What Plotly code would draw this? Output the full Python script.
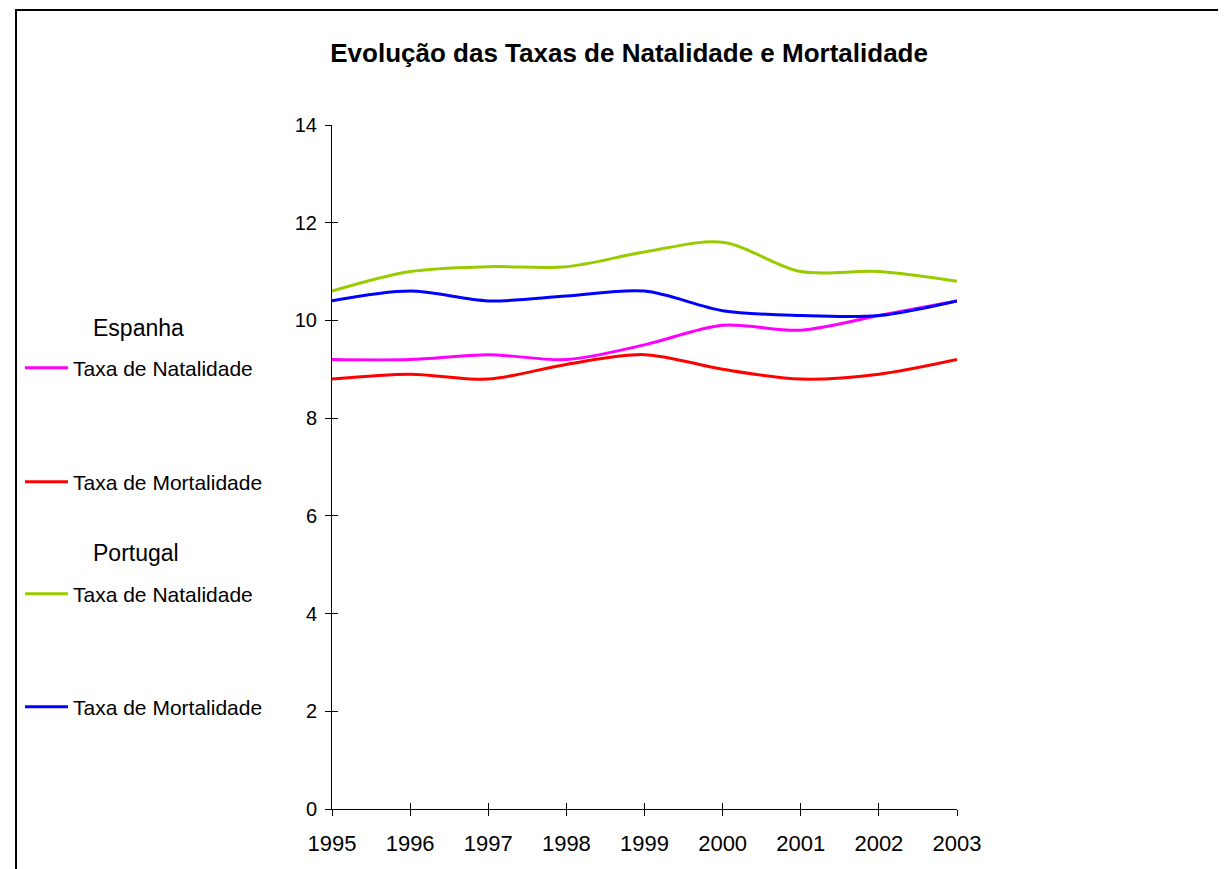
import plotly.graph_objects as go

anos = [1995, 1996, 1997, 1998, 1999, 2000, 2001, 2002, 2003]

esp_natalidade = [9.2, 9.2, 9.3, 9.2, 9.5, 9.9, 9.8, 10.1, 10.4]
esp_mortalidade = [8.8, 8.9, 8.8, 9.1, 9.3, 9.0, 8.8, 8.9, 9.2]
por_natalidade = [10.6, 11.0, 11.1, 11.1, 11.4, 11.6, 11.0, 11.0, 10.8]
por_mortalidade = [10.4, 10.6, 10.4, 10.5, 10.6, 10.2, 10.1, 10.1, 10.4]

y_ticks = [0, 2, 4, 6, 8, 10, 12, 14]

# page has an 8px body margin, so the figure is 8px smaller than the window
OFF = 8
W, H = 1226 - OFF, 869 - OFF
L, T = 328 - OFF, 125 - OFF
R, B = 1226 - 957, 869 - 809
pw, ph = W - L - R, H - T - B


def px_x(p):
    # p: x position in window pixels
    return (p - OFF - L) / pw


def px_y(p):
    return (H - B - (p - OFF)) / ph


font = 'Liberation Sans, Arial, sans-serif'

series = [
    ('Taxa de Natalidade', esp_natalidade, '#FF00FF', 'legend', 368),
    ('Taxa de Mortalidade', esp_mortalidade, '#FF0000', 'legend2', 482),
    ('Taxa de Natalidade', por_natalidade, '#99CC00', 'legend3', 594),
    ('Taxa de Mortalidade', por_mortalidade, '#0000FF', 'legend4', 707),
]

fig = go.Figure()
for name, vals, color, leg, _ in series:
    fig.add_trace(go.Scatter(x=anos, y=vals, name=name, mode='lines',
                             line=dict(color=color, width=3, shape='spline', smoothing=0.9),
                             legend=leg, showlegend=True))

# invisible copy on the overlay axes so their inside ticks get drawn (crossing ticks)
fig.add_trace(go.Scatter(x=anos, y=esp_natalidade, xaxis='x2', yaxis='y2', mode='lines',
                         opacity=0, showlegend=False, hoverinfo='skip'))

axis_common = dict(showgrid=False, zeroline=False, showline=True, linecolor='#000000',
                   linewidth=1, tickcolor='#000000', ticklen=6, tickwidth=1)

layout_legends = {}
for name, vals, color, leg, ypx in series:
    layout_legends[leg] = dict(x=px_x(14), y=px_y(ypx), xanchor='left', yanchor='middle',
                               bgcolor='rgba(0,0,0,0)', borderwidth=0, itemwidth=43,
                               font=dict(family=font, size=21, color='#000000'))

fig.update_layout(
    width=W, height=H,
    margin=dict(l=L, r=R, t=T, b=B),
    paper_bgcolor='white', plot_bgcolor='white',
    showlegend=True,
    title=dict(text='<b>Evolução das Taxas de Natalidade e Mortalidade</b>',
               x=px_x(627), xref='paper', xanchor='center',
               y=1 - (53 - OFF) / H, yanchor='middle',
               font=dict(family=font, size=26, color='#000000')),
    xaxis=dict(range=[1995, 2003], tickvals=anos, ticks='outside',
               tickfont=dict(family=font, size=22, color='#000000'),
               ticklabelstandoff=9, **axis_common),
    yaxis=dict(range=[0, 14], tickvals=y_ticks, ticks='outside',
               tickfont=dict(family=font, size=20, color='#000000'),
               ticklabelstandoff=4, **axis_common),
    xaxis2=dict(range=[1995, 2003], tickvals=anos, ticks='inside', overlaying='x',
                anchor='y2', showticklabels=False, **axis_common),
    yaxis2=dict(range=[0, 14], tickvals=y_ticks, ticks='inside', overlaying='y',
                anchor='x2', showticklabels=False, **axis_common),
    **layout_legends,
)

for txt, ypx in [('Espanha', 328), ('Portugal', 553)]:
    fig.add_annotation(text=txt, xref='paper', yref='paper', x=px_x(85), y=px_y(ypx),
                       xanchor='left', yanchor='middle', showarrow=False,
                       font=dict(family=font, size=23, color='#000000'))

fig.add_shape(type='rect', xref='paper', yref='paper',
              x0=px_x(10), y0=px_y(900), x1=px_x(1260), y1=px_y(10),
              line=dict(color='#000000', width=2), fillcolor='rgba(0,0,0,0)')

fig.write_html('out.html')
